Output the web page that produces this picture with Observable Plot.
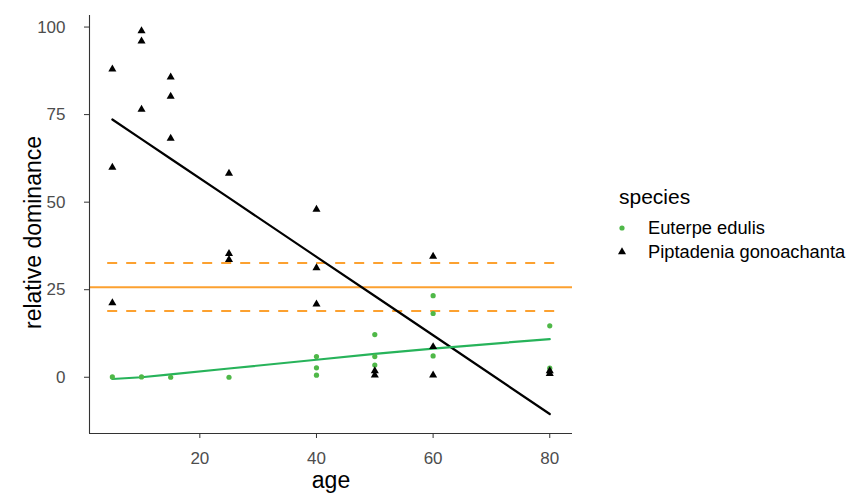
<!DOCTYPE html>
<html>
<head>
<meta charset="utf-8">
<script src="https://cdn.jsdelivr.net/npm/d3@7"></script>
<script src="https://cdn.jsdelivr.net/npm/@observablehq/plot@0.6"></script>
<style>
  body { margin: 0; background: #fff; }
  #wrap { position: relative; width: 863px; height: 500px; font-family: "Liberation Sans", Arial, sans-serif; }
  #legend { position: absolute; left: 0; top: 0; }
</style>
</head>
<body>
<div id="wrap"></div>
<script>
// ---- data ----
const species = ["Euterpe edulis", "Piptadenia gonoachanta"];

const eutAge = [5, 10, 15, 25, 40, 40, 40, 50, 50, 50, 60, 60, 60, 80, 80, 80];
const eutVal = [0.1, 0.1, 0, 0, 5.9, 2.7, 0.6, 12.2, 5.9, 3.5, 23.3, 18.2, 6.1, 14.7, 2.6, 1.5];

const pipAge = [5, 5, 5, 10, 10, 10, 15, 15, 15, 25, 25, 25, 40, 40, 40, 50, 50, 60, 60, 60, 80, 80];
const pipVal = [88, 59.9, 21.2, 98.9, 96, 76.5, 85.7, 80.2, 68.2, 58.2, 35.3, 33.6, 47.9, 31.2, 20.9, 1.8, 0.6, 34.5, 8.7, 0.6, 1.8, 1.0];

const fitAge = [5, 10, 15, 25, 40, 50, 60, 80];
const eutFit = [-0.5, 0, 0.8, 2.5, 5.0, 6.7, 8.2, 10.9];
const pipFit = [73.6, 68.0, 62.4, 51.2, 34.4, 23.2, 12.0, -10.5];

const meanVal = 25.7;
const ciVals = [32.6, 18.9];
const ciRange = [4.2, 81.4];

const xTicks = [20, 40, 60, 80];
const yTicks = [0, 25, 50, 75, 100];
const xDomain = [1.08, 83.9];
const yDomain = [-16.06, 103.3];

// ---- styles ----
const green = "#4fb848";
const greenLine = "#27b35a";
const orange = "#fca130";

const eut = eutAge.map((a, i) => ({age: a, val: eutVal[i]}));
const pip = pipAge.map((a, i) => ({age: a, val: pipVal[i]}));
const eFit = fitAge.map((a, i) => ({age: a, val: eutFit[i]}));
const pFit = fitAge.map((a, i) => ({age: a, val: pipFit[i]}));

const plot = Plot.plot({
  width: 863,
  height: 500,
  marginLeft: 89,
  marginRight: 291,
  marginTop: 15,
  marginBottom: 67,
  style: {fontFamily: "'Liberation Sans', Arial, sans-serif", fontSize: "17px", background: "white"},
  x: {domain: xDomain},
  y: {domain: yDomain},
  marks: [
    Plot.ruleY([meanVal], {stroke: orange, strokeWidth: 2}),
    Plot.ruleY(ciVals, {x1: ciRange[0], x2: ciRange[1], stroke: orange, strokeWidth: 2, strokeDasharray: "10,9"}),
    Plot.line(pFit, {x: "age", y: "val", stroke: "black", strokeWidth: 2.2}),
    Plot.line(eFit, {x: "age", y: "val", stroke: greenLine, strokeWidth: 2.2}),
    Plot.dot(eut, {x: "age", y: "val", r: 2.6, fill: green, stroke: "none"}),
    Plot.dot(pip, {x: "age", y: "val", r: 3, symbol: "triangle", fill: "black", stroke: "none"}),
    Plot.ruleX([xDomain[0]], {stroke: "#333", strokeWidth: 1.1}),
    Plot.ruleY([yDomain[0]], {stroke: "#333", strokeWidth: 1.1}),
    Plot.axisX({ticks: xTicks, tickSize: 5, tickPadding: 13, stroke: "#333", fill: "#4d4d4d", label: null}),
    Plot.axisY({ticks: yTicks, tickSize: 5, tickPadding: 19, stroke: "#333", fill: "#4d4d4d", label: null}),
    Plot.text(["age"], {frameAnchor: "bottom", dy: 54, fontSize: 23, fill: "black"}),
    Plot.text(["relative dominance"], {frameAnchor: "left", textAnchor: "middle", dx: -56, dy: 8, rotate: -90, fontSize: 23, fill: "black"})
  ]
});
document.getElementById("wrap").appendChild(plot);

// ---- legend ----
const leg = d3.select("#wrap").append("svg").attr("id", "legend")
  .attr("width", 863).attr("height", 500)
  .style("font-family", "'Liberation Sans', Arial, sans-serif");
leg.append("text").attr("x", 619).attr("y", 204).attr("font-size", 21).attr("fill", "black").text("species");
const items = leg.selectAll("g.item").data(species).join("g").attr("class", "item")
  .attr("transform", (d, i) => `translate(0,${i * 24})`);
items.append("path")
  .attr("transform", "translate(622,228)")
  .attr("d", (d, i) => d3.symbol(i === 0 ? d3.symbolCircle : d3.symbolTriangle, i === 0 ? Math.PI * 2.6 * 2.6 : Math.PI * 9)())
  .attr("fill", (d, i) => i === 0 ? green : "black");
items.append("text").attr("x", 648).attr("y", 234).attr("font-size", 18.3).attr("fill", "black").text(d => d);
</script>
</body>
</html>
